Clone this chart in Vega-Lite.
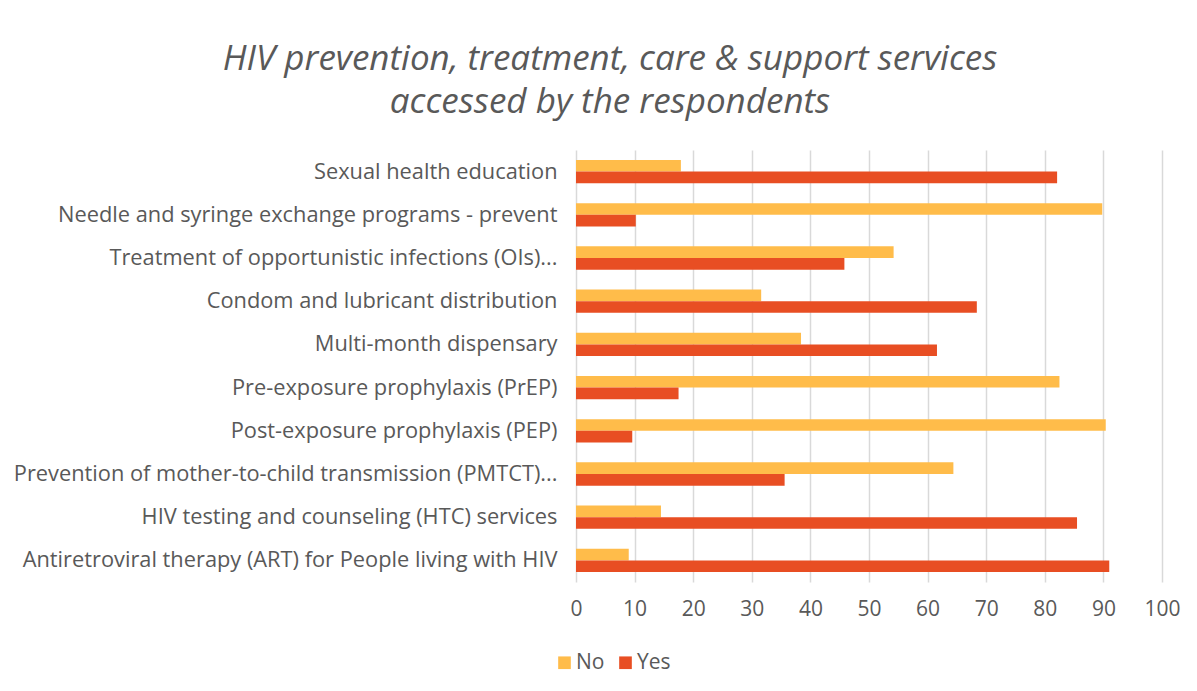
{
  "$schema": "https://vega.github.io/schema/vega-lite/v6.json",
  "width": 586,
  "height": 432,
  "autosize": {"type": "none"},
  "padding": {"left": 576, "top": 150, "right": 35, "bottom": 109},
  "background": "white",
  "title": {
    "text": ["HIV prevention, treatment, care & support services", "accessed by the respondents"],
    "font": "Open Sans",
    "fontSize": 35,
    "fontStyle": "italic",
    "fontWeight": "normal",
    "color": "#595959",
    "anchor": "middle",
    "frame": "group",
    "dx": -259,
    "offset": 30,
    "lineHeight": 43
  },
  "data": {
    "values": [
      {"service": "Sexual health education", "response": "No", "value": 17.9},
      {"service": "Sexual health education", "response": "Yes", "value": 82.1},
      {"service": "Needle and syringe exchange programs - prevent\u00a0\u00a0", "response": "No", "value": 89.8},
      {"service": "Needle and syringe exchange programs - prevent\u00a0\u00a0", "response": "Yes", "value": 10.2},
      {"service": "Treatment of opportunistic infections (OIs)...", "response": "No", "value": 54.2},
      {"service": "Treatment of opportunistic infections (OIs)...", "response": "Yes", "value": 45.8},
      {"service": "Condom and lubricant distribution", "response": "No", "value": 31.6},
      {"service": "Condom and lubricant distribution", "response": "Yes", "value": 68.4},
      {"service": "Multi-month dispensary", "response": "No", "value": 38.4},
      {"service": "Multi-month dispensary", "response": "Yes", "value": 61.6},
      {"service": "Pre-exposure prophylaxis (PrEP)", "response": "No", "value": 82.5},
      {"service": "Pre-exposure prophylaxis (PrEP)", "response": "Yes", "value": 17.5},
      {"service": "Post-exposure prophylaxis (PEP)", "response": "No", "value": 90.4},
      {"service": "Post-exposure prophylaxis (PEP)", "response": "Yes", "value": 9.6},
      {"service": "Prevention of mother-to-child transmission (PMTCT)...", "response": "No", "value": 64.4},
      {"service": "Prevention of mother-to-child transmission (PMTCT)...", "response": "Yes", "value": 35.6},
      {"service": "HIV testing and counseling (HTC) services", "response": "No", "value": 14.5},
      {"service": "HIV testing and counseling (HTC) services", "response": "Yes", "value": 85.5},
      {"service": "Antiretroviral therapy (ART) for People living with HIV", "response": "No", "value": 9.0},
      {"service": "Antiretroviral therapy (ART) for People living with HIV", "response": "Yes", "value": 91.0}
    ]
  },
  "mark": {"type": "bar"},
  "encoding": {
    "y": {
      "field": "service",
      "type": "nominal",
      "sort": null,
      "scale": {"paddingInner": 0.46, "paddingOuter": 0.23},
      "axis": {
        "title": null,
        "domain": false,
        "ticks": false,
        "labelFont": "Open Sans",
        "labelFontSize": 21.8,
        "labelColor": "#595959",
        "labelPadding": 19,
        "labelLimit": 700
      }
    },
    "yOffset": {"field": "response", "type": "nominal", "sort": ["No", "Yes"]},
    "x": {
      "field": "value",
      "type": "quantitative",
      "scale": {"domain": [0, 100], "nice": false},
      "axis": {
        "title": null,
        "values": [0, 10, 20, 30, 40, 50, 60, 70, 80, 90, 100],
        "domain": false,
        "ticks": false,
        "grid": true,
        "gridColor": "#d9d9d9",
        "gridWidth": 1.5,
        "labelFont": "Open Sans",
        "labelFontSize": 21,
        "labelColor": "#595959",
        "labelPadding": 16,
        "labelFlush": false
      }
    },
    "color": {
      "field": "response",
      "type": "nominal",
      "scale": {"domain": ["No", "Yes"], "range": ["#FFBC4A", "#E84E23"]},
      "legend": {
        "title": null,
        "orient": "none",
        "direction": "horizontal",
        "legendX": -22,
        "legendY": 502,
        "symbolType": "square",
        "symbolSize": 160,
        "symbolStrokeWidth": 0,
        "labelFont": "Open Sans",
        "labelFontSize": 21,
        "labelColor": "#595959",
        "labelOffset": 1,
        "columnPadding": 10
      }
    }
  },
  "config": {"view": {"stroke": null}}
}
